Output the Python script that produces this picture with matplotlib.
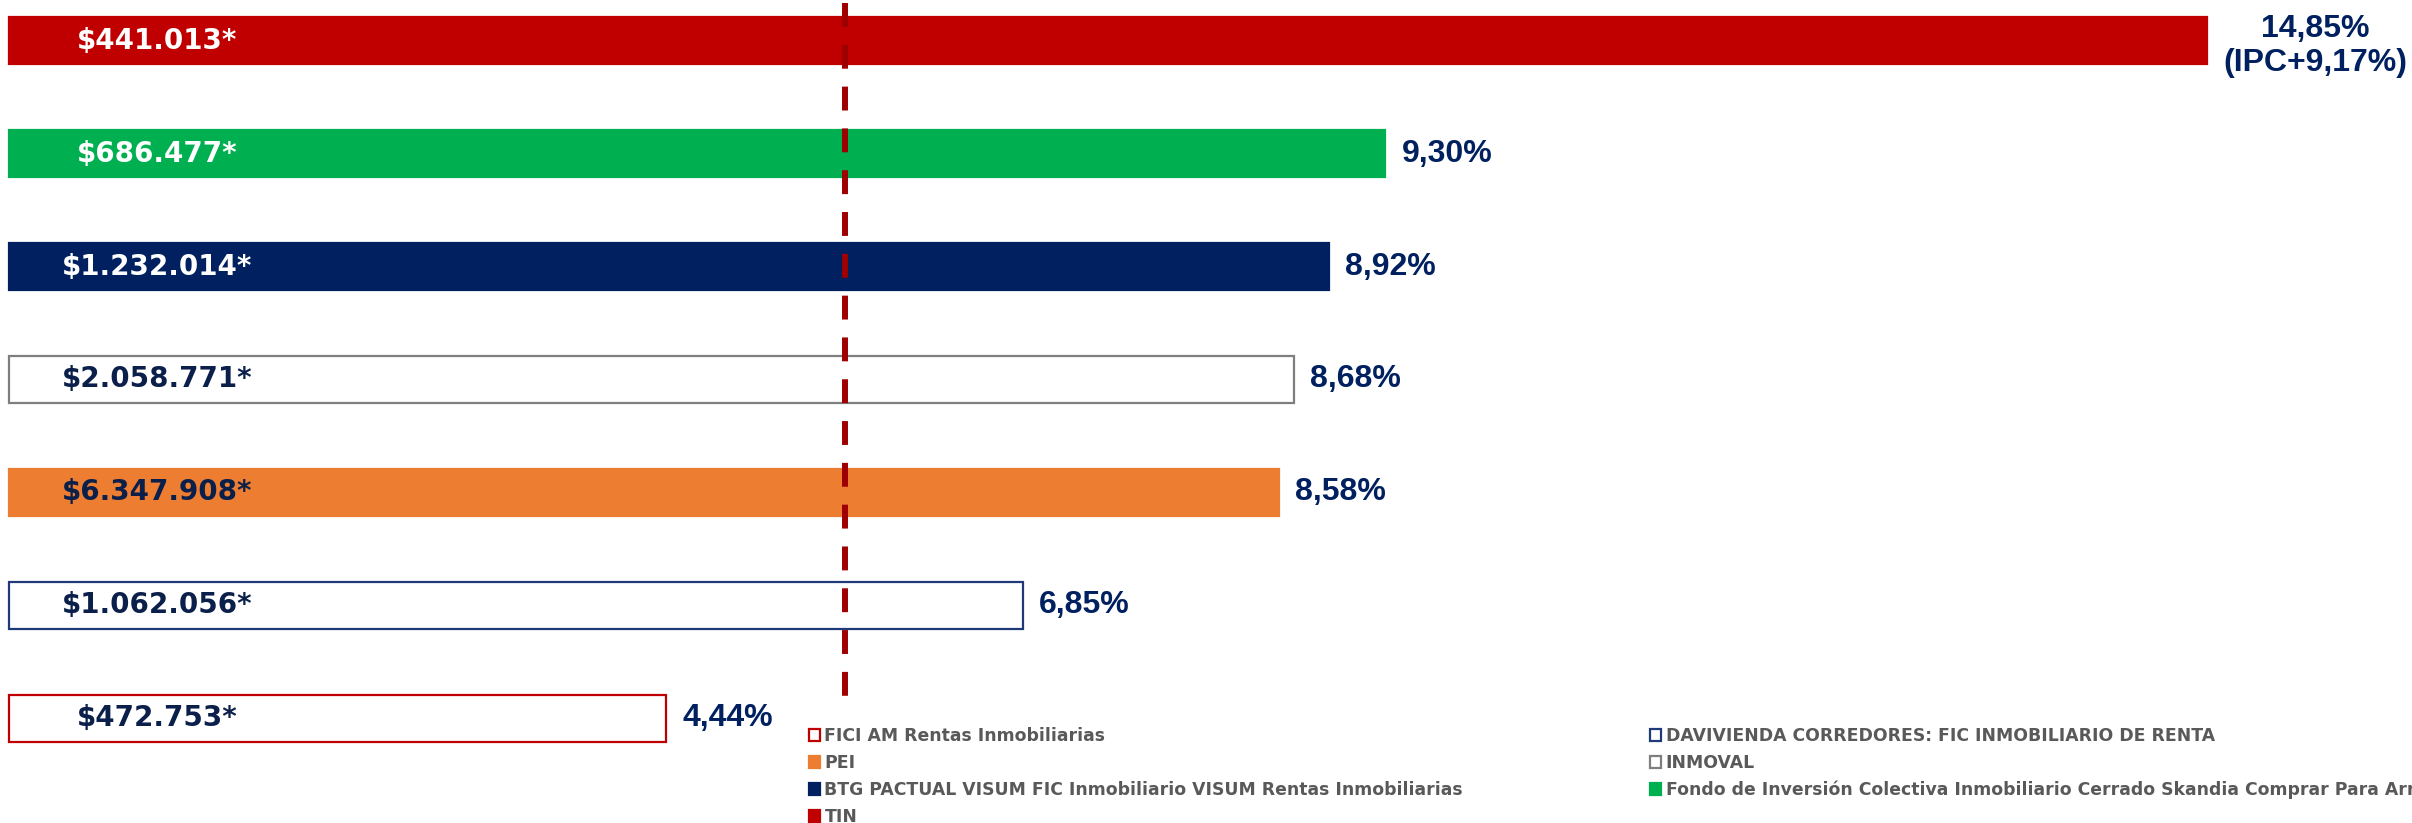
import matplotlib
matplotlib.use("Agg")
import matplotlib.pyplot as plt

# ---- data ----
funds = [
    "TIN",
    "Fondo de Inversión Colectiva Inmobiliario Cerrado Skandia Comprar Para Arrendar",
    "BTG PACTUAL VISUM FIC Inmobiliario VISUM Rentas Inmobiliarias",
    "INMOVAL",
    "PEI",
    "DAVIVIENDA CORREDORES: FIC INMOBILIARIO DE RENTA",
    "FICI AM Rentas Inmobiliarias",
]
rentabilidad = [14.85, 9.30, 8.92, 8.68, 8.58, 6.85, 4.44]
pct_labels = ["14,85%\n(IPC+9,17%)", "9,30%", "8,92%", "8,68%", "8,58%", "6,85%", "4,44%"]
amount_labels = ["$441.013*", "$686.477*", "$1.232.014*", "$2.058.771*",
                 "$6.347.908*", "$1.062.056*", "$472.753*"]
promedio = 5.65

# ---- styles ----
face_colors = ["#C00000", "#00B050", "#002060", "white", "#ED7D31", "white", "white"]
edge_colors = ["#C00000", "#00B050", "#002060", "#7F7F7F", "#ED7D31", "#1F3A78", "#C00000"]
amount_colors = ["white", "white", "white", "#0B1F4B", "#0B1F4B", "#0B1F4B", "#0B1F4B"]
navy = "#002060"

fig = plt.figure(figsize=(24.12, 8.23), dpi=100)
ax = fig.add_axes([0, 0, 1, 1])
px_per_unit = 148.0
ax.set_xlim(-9 / px_per_unit, (2412 - 9) / px_per_unit)
ax.set_ylim(6.928, -0.361)
ax.axis("off")

handles = {}
for i, (name, val) in enumerate(zip(funds, rentabilidad)):
    b = ax.barh(i, val, height=0.416, color=face_colors[i], edgecolor=edge_colors[i],
                linewidth=1.6, label=name, zorder=2)
    handles[name] = b
    ax.text(1.0, i, amount_labels[i], ha="center", va="center", color=amount_colors[i],
            fontsize=20, fontweight="bold", family="DejaVu Sans", zorder=4)
    multi = "\n" in pct_labels[i]
    ax.text(val + 0.11, i + (0.045 if multi else 0), pct_labels[i], ha="left", va="center",
            multialignment="center", color=navy, fontsize=23, fontweight="bold",
            family="Liberation Sans", linespacing=1.2, zorder=4)

ax.plot([promedio, promedio], [-0.335, 5.82], color="#9E0000", linewidth=4.3,
        linestyle=(0, (4.0, 3.0)), solid_capstyle="butt", dash_capstyle="butt", zorder=3)

col1 = [funds[6], funds[4], funds[2], funds[0]]
col2 = [funds[5], funds[3], funds[1]]
leg_kw = dict(loc="upper left", frameon=False, borderpad=0, borderaxespad=0,
              handlelength=0.65, handleheight=0.7, handletextpad=0.25, labelspacing=0.52,
              labelcolor="#595959", prop={"weight": "bold", "size": 12.4, "family": "DejaVu Sans"})
fig.legend([handles[n] for n in col1], col1, bbox_to_anchor=(809 / 2412, 1 - 727 / 823),
           bbox_transform=fig.transFigure, **leg_kw)
fig.legend([handles[n] for n in col2], col2, bbox_to_anchor=(1650 / 2412, 1 - 727 / 823),
           bbox_transform=fig.transFigure, **leg_kw)

fig.savefig("out.png", dpi=100)
